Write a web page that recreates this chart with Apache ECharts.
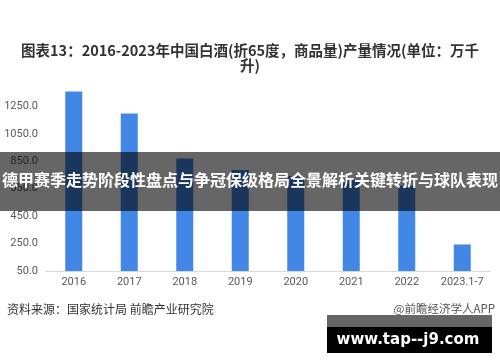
<!DOCTYPE html>
<html><head><meta charset="utf-8">
<script src="https://cdn.jsdelivr.net/npm/echarts@6/dist/echarts.min.js"></script>
<style>html,body{margin:0;padding:0;background:#fff}#c{width:500px;height:362px}</style>
</head><body><div id="c"></div>
<script>
var categories = ['2016','2017','2018','2019','2020','2021','2022','2023.1-7'];
var production = [1358.4, 1198.1, 871.2, 785.9, 740.7, 715.6, 671.2, 243.7];
var yTicks = [50, 250, 450, 650, 850, 1050, 1250];
var titleText = '图表13：2016-2023年中国白酒(折65度，商品量)产量情况(单位：万千\n升)';
var bannerText = '德甲赛季走势阶段性盘点与争冠保级格局全景解析关键转折与球队表现';
var sourceText = '资料来源：国家统计局 前瞻产业研究院';
var brandText = '@前瞻经济学人APP';
var siteText = 'www.tap--j9.com';

var chart = echarts.init(document.getElementById('c'));
var font = '"Noto Sans CJK SC", "Microsoft YaHei", sans-serif';
chart.setOption({
  animation: false,
  textStyle: {fontFamily: font},
  title: {
    text: titleText, left: 'center', top: 38,
    textStyle: {fontSize: 14.5, fontWeight: 'bold', color: '#333', lineHeight: 15, fontFamily: font}
  },
  grid: {left: 46, right: 10, top: 79, bottom: 91, containLabel: false},
  xAxis: {
    type: 'category', data: categories,
    axisLine: {lineStyle: {color: '#d9d9d9'}},
    axisTick: {show: false},
    axisLabel: {color: '#595959', fontSize: 11, margin: 6, interval: 0, fontFamily: 'Roboto, sans-serif'}
  },
  yAxis: {
    type: 'value', min: yTicks[0], max: 1450, interval: yTicks[1] - yTicks[0],
    splitLine: {show: false},
    axisLine: {show: false}, axisTick: {show: false},
    axisLabel: {color: '#595959', fontSize: 11, margin: 8, fontFamily: 'Roboto, sans-serif',
      showMaxLabel: false,
      formatter: function (v) { return yTicks.indexOf(v) >= 0 ? v.toFixed(1) : ''; }}
  },
  series: [{
    type: 'bar', data: production, barWidth: 17,
    itemStyle: {color: '#4287e6'}
  }],
  graphic: [
    {type: 'text', left: 7, top: 303, style: {text: sourceText, fill: '#333', font: '12px ' + font}},
    {type: 'text', right: 5, top: 303, style: {text: brandText, fill: '#555', font: '11.5px ' + font}},
    {type: 'rect', shape: {x: 0, y: 152, width: 500, height: 59}, style: {fill: 'rgba(0,0,0,0.6)'}, z: 100},
    {type: 'text', left: 'center', top: 172, z: 101,
      style: {text: bannerText, fill: '#fff', font: 'bold 16px ' + font}},
    {type: 'rect', shape: {x: 327, y: 315, width: 165, height: 12}, style: {fill: '#666'}, z: 100},
    {type: 'rect', shape: {x: 327, y: 327, width: 165, height: 26}, style: {fill: '#000'}, z: 100},
    {type: 'text', x: 408, y: 340, z: 101,
      style: {text: siteText, fill: '#fff', font: 'bold 15px "DejaVu Sans", sans-serif', align: 'center', verticalAlign: 'middle'}}
  ]
});
</script></body></html>
